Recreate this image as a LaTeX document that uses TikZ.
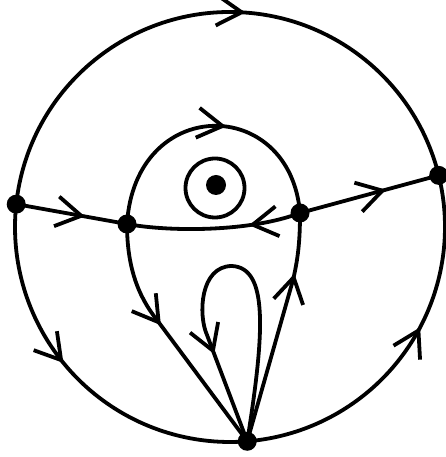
\documentclass[tikz,border=0pt]{standalone}
\usetikzlibrary{arrows.meta,decorations.markings}
\tikzset{
  midarrow/.style={postaction={decorate},
    decoration={markings,mark=at position #1 with {\arrow{Straight Barb[length=25pt,width=30pt]}}}},
  dot/.style={circle,fill=black,inner sep=0pt,minimum size=19pt},
  ring/.style={circle,draw,line width=3.8pt,inner sep=0pt,minimum size=59pt},
}
\begin{document}
\begin{tikzpicture}[x=1pt,y=1pt,line width=3.8pt]
\useasboundingbox (0,0) rectangle (445,457);
\coordinate (C) at (230,230);
\coordinate (L) at ([shift={(173.9:215pt)}]C);
\coordinate (R) at ([shift={(13.9:215pt)}]C);
\coordinate (S) at ([shift={(274.6:215pt)}]C);
\coordinate (A) at (127,233);
\coordinate (B) at (300,244);
\coordinate (a1) at (157,137);
\coordinate (b1) at (293,177);
% outer circle
\draw[midarrow=0.55] (L) arc[start angle=173.9, end angle=13.9, radius=215pt];
\draw[midarrow=0.45] (L) arc[start angle=173.9, end angle=274.6, radius=215pt];
\draw[midarrow=0.58] (S) arc[start angle=274.6, end angle=373.9, radius=215pt];
% separatrices
\draw[midarrow=0.62] (L) -- (A);
\draw[midarrow=0.62] (B) -- (R);
\draw[midarrow=0.56] (A) .. controls (135,362) and (290,362) .. (B);
\draw[midarrow=0.3] (B) .. controls (250,225) and (170,225) .. (A);
\draw[midarrow=0.43] (A) .. controls (127,192) and (137,162) .. (a1) -- (S);
\draw[midarrow=0.74] (S) -- (b1) .. controls (299,202) and (300,222) .. (B);
\draw[midarrow=0.76] (S) .. controls (265,127) and (268,189) .. (232,191)
   .. controls (200,191) and (198,142) .. (207,122) -- (S);
% centre
\node[ring] (rg) at (215,269) {};
\node[dot,minimum size=20pt] (eq) at (216,272) {};
% singular points
\node[dot] (Ln) at (L) {};
\node[dot] (Rn) at (R) {};
\node[dot] (Sn) at (S) {};
\node[dot] (An) at (A) {};
\node[dot] (Bn) at (B) {};
\end{tikzpicture}
\end{document}
